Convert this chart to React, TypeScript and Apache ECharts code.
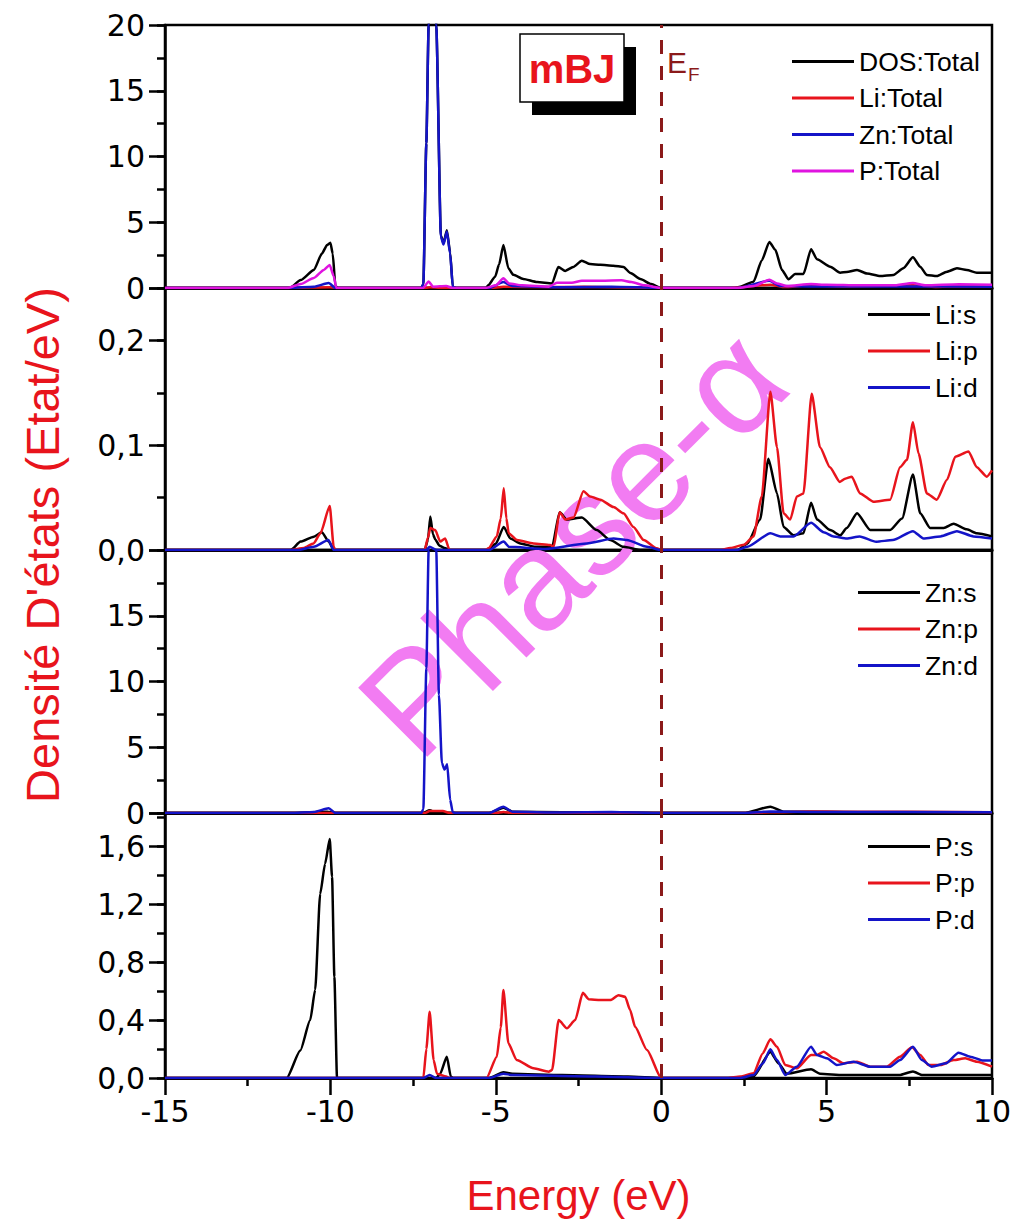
import React, { useEffect, useRef } from "react";
import * as echarts from "echarts";

// ---------- data (energy in eV, DOS in states/eV) ----------
const xTicks = [-15, -10, -5, 0, 5, 10];

const dosTotal = [[-15,0],[-11.3,0],[-11.2,0.05],[-10.9,0.6],[-10.5,1.37],[-10.26,2.6],[-10.1,3.27],[-10.0,3.45],[-9.93,2.6],[-9.85,0.2],[-9.8,0],
[-7.25,0],[-7.19,0.3],[-7.1,11],[-7.03,20],[-6.95,28],[-6.85,27],[-6.8,20],[-6.66,4.0],[-6.58,3.4],[-6.48,4.4],[-6.38,2.7],[-6.3,0.1],[-6.2,0],
[-5.3,0],[-5.23,0.2],[-5.02,0.86],[-4.9,1.8],[-4.77,3.27],[-4.62,1.5],[-4.47,1.0],[-4.17,0.68],[-3.75,0.45],[-3.3,0.35],[-3.11,1.6],[-2.9,1.3],[-2.66,1.6],[-2.4,2.08],[-2.15,1.82],[-1.84,1.77],[-1.45,1.7],[-1.14,1.6],[-0.93,1.14],[-0.63,0.68],[-0.3,0.3],[0,0],
[2.2,0],[2.39,0.1],[2.79,0.48],[3.04,2.1],[3.27,3.5],[3.45,2.9],[3.65,1.37],[3.85,0.66],[4.05,1.06],[4.3,1.06],[4.53,2.94],[4.71,2.18],[5.11,1.62],[5.41,1.16],[5.61,1.22],[5.92,1.37],[6.22,1.1],[6.62,0.91],[7.02,0.99],[7.32,1.5],[7.61,2.33],[7.83,1.62],[8.03,0.99],[8.33,0.91],[8.64,1.24],[8.94,1.5],[9.24,1.37],[9.54,1.16],[10,1.16]];

const liTotal = [[-15,0],[-11.2,0],[-10.0,0.06],[-9.85,0],[-7.2,0],[-6.98,0.05],[-6.5,0],[-5.2,0],[-4.77,0.09],[-3.07,0.07],[-2.35,0.09],[-1.5,0.06],[0,0],[2.1,0],[3.3,0.25],[3.7,0.07],[4.55,0.2],[5.5,0.1],[7.61,0.21],[8.3,0.08],[9.0,0.13],[10,0.1]];

const znTotal = [[-15,0],[-11.2,0],[-10.5,0.1],[-10.05,0.38],[-9.85,0],[-7.25,0],[-7.19,0.3],[-7.1,11],[-7.03,20],[-6.95,27.5],[-6.85,26.5],[-6.8,20],[-6.66,3.9],[-6.58,3.3],[-6.48,4.3],[-6.38,2.6],[-6.3,0.1],[-6.2,0],[-5.2,0],[-4.77,0.45],[-4.5,0.15],[-3.0,0.05],[-1.5,0.1],[0,0],[2.3,0],[3.27,0.55],[3.6,0.15],[4.5,0.12],[7.6,0.12],[10,0.1]];

const pTotal = [[-15,0],[-11.3,0],[-10.9,0.3],[-10.5,0.76],[-10.2,1.37],[-10.02,1.75],[-9.9,0.9],[-9.82,0],[-7.2,0],[-7.03,0.5],[-6.9,0.1],[-6.5,0.15],[-6.3,0],[-5.3,0],[-5.0,0.2],[-4.77,0.74],[-4.6,0.35],[-4.2,0.2],[-3.4,0.1],[-3.15,0.4],[-2.7,0.4],[-2.4,0.55],[-1.8,0.55],[-1.2,0.58],[-0.9,0.45],[-0.5,0.2],[0,0],[2.3,0],[2.8,0.15],[3.27,0.63],[3.5,0.35],[3.8,0.15],[4.53,0.3],[5,0.25],[6,0.2],[7,0.2],[7.61,0.38],[8,0.2],[9,0.28],[10,0.25]];

const liS = [[-15,0],[-11.2,0],[-10.9,0.008],[-10.5,0.0127],[-10.26,0.017],[-10.05,0.008],[-9.9,0],[-7.15,0],[-7.05,0.01],[-6.98,0.032],[-6.9,0.015],[-6.83,0.01],[-6.7,0.004],[-6.55,0.002],[-6.4,0],[-5.25,0],[-5.0,0.006],[-4.76,0.022],[-4.56,0.011],[-4.26,0.0063],[-3.8,0.003],[-3.3,0.003],[-3.07,0.036],[-2.85,0.029],[-2.4,0.031],[-1.95,0.019],[-1.54,0.0095],[-1.14,0.003],[-0.6,0],[0,0],
[2.3,0],[2.6,0.006],[2.99,0.029],[3.24,0.087],[3.5,0.054],[3.7,0.022],[4.0,0.014],[4.3,0.016],[4.53,0.045],[4.71,0.029],[5.11,0.019],[5.41,0.014],[5.61,0.021],[5.92,0.035],[6.32,0.019],[6.92,0.019],[7.28,0.03],[7.61,0.072],[7.83,0.035],[8.13,0.021],[8.54,0.021],[8.84,0.025],[9.24,0.0197],[9.54,0.016],[10,0.013]];

const liP = [[-15,0],[-11.2,0],[-10.8,0.002],[-10.51,0.0063],[-10.3,0.016],[-10.02,0.042],[-9.9,0.003],[-9.85,0],[-7.15,0],[-7.05,0.012],[-6.98,0.021],[-6.83,0.019],[-6.68,0.008],[-6.53,0.011],[-6.4,0],[-5.3,0],[-5.21,0.002],[-4.97,0.013],[-4.85,0.03],[-4.76,0.059],[-4.68,0.03],[-4.61,0.016],[-4.36,0.0095],[-3.86,0.0063],[-3.36,0.0048],[-3.25,0.003],[-3.07,0.036],[-2.9,0.029],[-2.65,0.031],[-2.35,0.056],[-2.15,0.051],[-1.84,0.048],[-1.44,0.041],[-1.14,0.035],[-0.84,0.022],[-0.53,0.0095],[-0.13,0.0016],[0,0],
[1.8,0],[2.09,0.002],[2.5,0.005],[2.79,0.013],[3.04,0.051],[3.3,0.151],[3.5,0.098],[3.7,0.035],[3.9,0.029],[4.1,0.051],[4.3,0.054],[4.55,0.149],[4.8,0.098],[5.1,0.079],[5.4,0.065],[5.56,0.068],[5.76,0.07],[6.01,0.054],[6.42,0.046],[6.92,0.048],[7.22,0.079],[7.43,0.086],[7.61,0.122],[7.78,0.092],[8.03,0.054],[8.33,0.048],[8.64,0.067],[8.89,0.089],[9.29,0.094],[9.54,0.079],[9.84,0.07],[10,0.076]];

const liD = [[-15,0],[-11.0,0],[-10.5,0.003],[-10.06,0.0095],[-9.9,0],[-7.1,0],[-7.0,0.003],[-6.8,0],[-5.2,0],[-4.76,0.008],[-4.6,0.003],[-3.5,0.001],[-2.25,0.0063],[-1.44,0.011],[-1.04,0.0095],[-0.43,0.003],[0,0],[2.3,0],[2.6,0.003],[3.3,0.016],[3.6,0.013],[4.0,0.013],[4.53,0.026],[4.91,0.017],[5.21,0.013],[5.61,0.011],[6.0,0.013],[6.5,0.0079],[7.0,0.0095],[7.61,0.018],[7.93,0.011],[8.44,0.013],[8.94,0.018],[9.44,0.013],[10,0.011]];

const znS = [[-15,0],[-11,0],[-10.1,0.1],[-9.85,0],[-7.2,0],[-7.0,0.2],[-6.8,0],[-5.2,0],[-4.77,0.4],[-4.5,0.1],[-3,0.05],[-1.5,0.05],[0,0],[2.5,0],[3.3,0.48],[3.7,0.1],[4.5,0.1],[6,0.05],[10,0.05]];
const znP = [[-15,0],[-7.15,0],[-7.0,0.15],[-6.6,0.15],[-6.4,0],[-5,0],[-4.77,0.08],[-4.5,0],[2.5,0],[3.3,0.05],[4.5,0.12],[5.5,0.1],[7.6,0.1],[10,0.05]];
const znD = [[-15,0],[-11.2,0],[-10.5,0.08],[-10.05,0.36],[-9.85,0],[-7.25,0],[-7.19,0.3],[-7.1,11],[-7.03,20],[-6.95,27],[-6.85,26],[-6.8,20],[-6.72,9],[-6.63,3.8],[-6.55,3.3],[-6.47,3.7],[-6.38,1.0],[-6.3,0.05],[-6.2,0],[-5.2,0],[-4.77,0.48],[-4.5,0.1],[-3,0.03],[-1.5,0.08],[0,0],[2.5,0],[3.3,0.12],[4.5,0.08],[10,0.06]];

const pS = [[-15,0],[-11.32,0],[-10.91,0.19],[-10.61,0.4],[-10.46,0.61],[-10.31,1.27],[-10.16,1.48],[-10.02,1.65],[-9.95,1.39],[-9.88,0.7],[-9.8,0],[-6.8,0],[-6.68,0.03],[-6.48,0.147],[-6.36,0.01],[-6.3,0],[-5.2,0],[-4.77,0.04],[-4.5,0.03],[-3,0.02],[-1,0.01],[0,0],[2.4,0],[2.79,0.01],[3.3,0.18],[3.55,0.1],[3.8,0.03],[4.53,0.06],[4.8,0.03],[5.5,0.02],[7.2,0.02],[7.61,0.045],[7.9,0.02],[10,0.02]];
const pP = [[-15,0],[-7.19,0],[-7.1,0.2],[-7.0,0.457],[-6.88,0.124],[-6.78,0.03],[-6.5,0.01],[-6.4,0],[-5.28,0],[-4.97,0.147],[-4.85,0.35],[-4.77,0.607],[-4.62,0.24],[-4.37,0.124],[-3.86,0.067],[-3.4,0.044],[-3.3,0.055],[-3.1,0.4],[-2.85,0.343],[-2.6,0.4],[-2.37,0.588],[-2.19,0.543],[-1.84,0.538],[-1.54,0.538],[-1.29,0.572],[-1.09,0.561],[-0.94,0.469],[-0.79,0.354],[-0.43,0.193],[0,0],[2.0,0],[2.39,0.01],[2.79,0.032],[3.07,0.17],[3.3,0.267],[3.5,0.216],[3.75,0.09],[4.1,0.067],[4.53,0.159],[4.71,0.159],[4.91,0.181],[5.21,0.136],[5.51,0.101],[5.92,0.112],[6.32,0.078],[6.82,0.078],[7.22,0.147],[7.58,0.212],[7.83,0.159],[8.08,0.09],[8.44,0.09],[8.84,0.124],[9.19,0.136],[9.54,0.112],[10,0.078]];
const pD = [[-15,0],[-7.2,0],[-7.0,0.02],[-6.8,0],[-5.2,0],[-4.77,0.03],[-4.5,0.02],[-2,0.01],[0,0],[2.4,0],[2.79,0.02],[3.07,0.1],[3.3,0.198],[3.5,0.124],[3.75,0.021],[4.1,0.078],[4.53,0.216],[4.71,0.159],[5.01,0.136],[5.31,0.09],[5.81,0.112],[6.32,0.078],[6.92,0.078],[7.22,0.124],[7.61,0.216],[7.88,0.124],[8.18,0.078],[8.6,0.101],[8.99,0.175],[9.34,0.147],[9.74,0.12],[10,0.12]];

// ---------- styling ----------
const BLACK = "#000000";
const RED = "#e8141c";
const BLUE = "#1414c8";
const MAGENTA = "#e014e0";
const DARKRED = "#8b1a1a";
const FONT = "'Liberation Sans', Arial, sans-serif";
const TICKFONT = "'DejaVu Sans', 'Liberation Sans', sans-serif";

const panels = [
  { top: 25, height: 263, min: 0, max: 20, major: 5, minor: 2.5, fmt: (v: number) => String(v),
    legendLeft: 787, legendTop: 43,
    series: [
      { name: "DOS:Total", data: dosTotal, color: BLACK },
      { name: "Li:Total", data: liTotal, color: RED },
      { name: "Zn:Total", data: znTotal, color: BLUE },
      { name: "P:Total", data: pTotal, color: MAGENTA },
    ] },
  { top: 288, height: 262, min: 0, max: 0.25, major: 0.1, minor: 0.05,
    fmt: (v: number) => (v > 0.21 ? "" : v.toFixed(1).replace(".", ",")),
    legendLeft: 863, legendTop: 296,
    series: [
      { name: "Li:s", data: liS, color: BLACK },
      { name: "Li:p", data: liP, color: RED },
      { name: "Li:d", data: liD, color: BLUE },
    ] },
  { top: 550, height: 263, min: 0, max: 20, major: 5, minor: 2.5,
    fmt: (v: number) => (v >= 19 ? "" : String(v)),
    legendLeft: 853, legendTop: 574,
    series: [
      { name: "Zn:s", data: znS, color: BLACK },
      { name: "Zn:p", data: znP, color: RED },
      { name: "Zn:d", data: znD, color: BLUE },
    ] },
  { top: 813, height: 265, min: 0, max: 1.83, major: 0.4, minor: 0.2,
    fmt: (v: number) => (v > 1.7 ? "" : v.toFixed(1).replace(".", ",")),
    legendLeft: 863, legendTop: 828,
    series: [
      { name: "P:s", data: pS, color: BLACK },
      { name: "P:p", data: pP, color: RED },
      { name: "P:d", data: pD, color: BLUE },
    ] },
];

export default function App() {
  const ref = useRef<HTMLDivElement>(null);
  useEffect(() => {
    if (!ref.current) return;
    const chart = echarts.init(ref.current, undefined, { renderer: "svg" });

    const grid: any[] = [];
    const xAxis: any[] = [];
    const yAxis: any[] = [];
    const series: any[] = [];
    const legend: any[] = [];

    panels.forEach((p, i) => {
      const last = i === panels.length - 1;
      grid.push({
        left: 165, width: 827, top: p.top, height: p.height,
        show: true, borderColor: BLACK, borderWidth: 2.5,
        containLabel: false, outerBoundsMode: "none",
      });
      xAxis.push({
        type: "value", gridIndex: i, min: xTicks[0], max: xTicks[xTicks.length - 1], interval: 5,
        axisLine: { show: true, onZero: false, lineStyle: { color: BLACK, width: 3 } },
        axisTick: { show: last, inside: false, length: 17, lineStyle: { color: BLACK, width: 2.5 } },
        minorTick: { show: last, splitNumber: 2, length: 8, lineStyle: { color: BLACK, width: 2.5 } },
        axisLabel: { show: last, fontSize: 30, color: BLACK, margin: 18, fontFamily: TICKFONT },
        splitLine: { show: false },
        name: last ? "Energy (eV)" : "",
        nameLocation: "middle", nameGap: 96,
        nameTextStyle: { fontSize: 42, color: RED, fontFamily: FONT },
      });
      yAxis.push({
        type: "value", gridIndex: i, min: p.min, max: p.max, interval: p.major, position: "left",
        axisLine: { show: true, onZero: false, lineStyle: { color: BLACK, width: 2.5 } },
        axisTick: { show: true, inside: false, length: 16, lineStyle: { color: BLACK, width: 2.5 } },
        axisLabel: { fontSize: 30, color: BLACK, margin: 20, fontFamily: TICKFONT, formatter: p.fmt },
        splitLine: { show: false },
      });
      yAxis.push({
        type: "value", gridIndex: i, min: p.min, max: p.max, interval: p.minor, position: "left",
        axisLine: { show: false, onZero: false },
        axisTick: { show: true, inside: false, length: 8, lineStyle: { color: BLACK, width: 2.5 } },
        axisLabel: { show: false },
        splitLine: { show: false },
      });
      p.series.forEach((s, k) => {
        series.push({
          type: "line", name: s.name, data: s.data,
          xAxisIndex: i, yAxisIndex: 2 * i,
          symbol: "none", showSymbol: false, clip: true,
          smooth: 0.2, smoothMonotone: "x",
          color: s.color,
          lineStyle: { color: s.color, width: 2.5 },
          z: 3,
          markLine: k === 0 ? {
            silent: true, symbol: "none", label: { show: false },
            lineStyle: { color: DARKRED, type: [14, 12], width: 3 },
            data: [{ xAxis: 0 }],
          } : undefined,
        });
      });
      legend.push({
        data: p.series.map((s) => ({ name: s.name, icon: "rect" })), orient: "vertical",
        left: p.legendLeft, top: p.legendTop,
        itemWidth: 62, itemHeight: 3, itemGap: 9.5,
        selectedMode: false,
        textStyle: { fontSize: 26.5, color: BLACK, fontFamily: FONT },
      });
    });

    chart.setOption({
      animation: false,
      backgroundColor: "#ffffff",
      textStyle: { fontFamily: FONT },
      grid, xAxis, yAxis, series, legend,
      graphic: [
        {
          type: "text", x: 572, y: 542, rotation: Math.PI / 4, z: 1,
          style: { text: "Phase-α", fill: "#f27cf2", font: `normal 142px ${FONT}`, align: "center", verticalAlign: "middle" },
        },
        {
          type: "text", x: 42, y: 545, rotation: Math.PI / 2, z: 5,
          style: { text: "Densité D'états (Etat/eV)", fill: RED, font: `normal 47px ${FONT}`, align: "center", verticalAlign: "middle" },
        },
        { type: "rect", z: 5, shape: { x: 532, y: 47, width: 104, height: 68 }, style: { fill: BLACK } },
        { type: "rect", z: 6, shape: { x: 520, y: 34, width: 104, height: 68 }, style: { fill: "#ffffff", stroke: BLACK, lineWidth: 1.5 } },
        {
          type: "text", x: 572, y: 69, z: 7,
          style: { text: "mBJ", fill: RED, font: `bold 40px ${FONT}`, align: "center", verticalAlign: "middle" },
        },
        { type: "text", x: 667, y: 62, z: 7, style: { text: "E", fill: DARKRED, font: `normal 30px ${FONT}`, align: "left", verticalAlign: "middle" } },
        { type: "text", x: 688, y: 74, z: 7, style: { text: "F", fill: DARKRED, font: `normal 19px ${FONT}`, align: "left", verticalAlign: "middle" } },
      ],
    });
    return () => chart.dispose();
  }, []);
  return <div ref={ref} style={{ position: "absolute", left: 0, top: 0, width: 1015, height: 1223 }} />;
}
